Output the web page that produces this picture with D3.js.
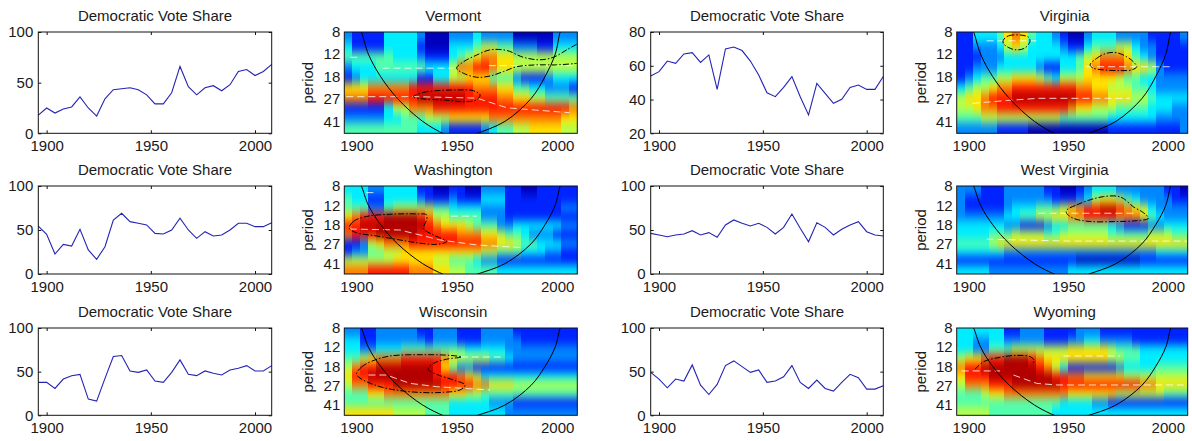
<!DOCTYPE html>
<html>
<head>
<meta charset="utf-8">
<script src="https://cdn.jsdelivr.net/npm/d3@7"></script>
<style>
  body { margin: 0; background: #fff; }
  svg text { font-family: "Liberation Sans", Arial, sans-serif; font-size: 15px; fill: #1a1a1a; }
</style>
</head>
<body>
<svg id="chart" width="1192" height="441"></svg>
<script>
// election years, shared by every panel
let years = [1896, 1900, 1904, 1908, 1912, 1916, 1920, 1924, 1928, 1932, 1936, 1940, 1944, 1948,
  1952, 1956, 1960, 1964, 1968, 1972, 1976, 1980, 1984, 1988, 1992, 1996, 2000, 2004, 2008];
let yearTicks = [1900, 1950, 2000];
let periodTicks = [8, 12, 18, 27, 41];

// democratic vote share, one value per election
let vermontVote = [18, 25, 20, 24, 26, 36, 25, 17, 34, 43, 44, 45, 43, 38, 29, 29, 40, 66, 46, 38, 45, 47, 42, 48, 61, 63, 57, 61, 68];
let virginiaVote = [53.9, 56.5, 62.8, 61.4, 67, 67.8, 62, 66.4, 46, 70, 71.1, 69, 62.8, 54.5, 44, 41.7, 47.2, 53.6, 41.7, 30.9, 49.6, 43.7, 37.8, 40.1, 47.2, 48.6, 46, 46, 53.6];
let washingtonVote = [54.5, 45, 22.7, 33.7, 31.8, 50.8, 27.3, 16.7, 31, 61.4, 69, 59.5, 57.6, 55.7, 46.2, 45.5, 50, 63.3, 50, 40.5, 48.1, 43.2, 44.3, 50, 57.6, 57.6, 53.8, 53.8, 58.3];
let westVirginiaVote = [46.2, 44.3, 42.4, 44.3, 45.5, 49.2, 44.3, 47, 41.7, 55.7, 61.4, 57.6, 54.5, 57.6, 53, 45.5, 53, 68.2, 51.9, 36.7, 58.3, 53, 44.3, 50.8, 55.7, 59.5, 48.1, 44.3, 43.2];
let wisconsinVote = [37.7, 37.7, 30.8, 41.5, 45.4, 46.9, 18.5, 16.2, 42.3, 67.3, 68.5, 50.8, 49.2, 51.9, 39.2, 37.7, 49.2, 63.5, 46.9, 45.4, 50.8, 48.1, 46.2, 51.9, 53.8, 56.9, 50.8, 50.8, 56.9];
let wyomingVote = [49.2, 41.5, 31.5, 41.5, 39.2, 57.7, 34.6, 23.8, 35.4, 56.9, 62.3, 55.8, 49.2, 51.9, 37.7, 39.2, 44.2, 56.9, 37.7, 30.8, 40.4, 30.8, 27.7, 37.7, 46.9, 43.1, 30, 30, 33.8];

// wavelet power, 0 (low) .. 9 (high); one string per period band (short -> long), one digit per election
let vermontPower = [
  "21111333320002223222200000222",
  "31111333310003334554422211333",
  "44444433321113456776655555555",
  "23334444443335778876655555555",
  "12333333311335566644421112333",
  "66677777888888887776644332221",
  "77788888899999988887766554444",
  "11111355777888888888888888887",
  "22222334445556666677777777766",
  "44444444433321111234455666655"
];
let virginiaPower = [
  "11333467643321002333222211112",
  "11222356533332113444553221111",
  "11122233333333345677764321111",
  "11222333332113346788876652111",
  "12344556665435556666544332222",
  "34556778888888877665554432222",
  "56678889999999988776665543333",
  "55677888888888766555444433322",
  "44455555555554444443333332222",
  "22222111100000000001111111112"
];
let washingtonPower = [
  "33322333311001100222110011111",
  "43311333321112111333111111111",
  "44422455555443333222111111122",
  "67888999987554444222111111111",
  "88999999998766654442233333322",
  "78889999988888777665443222111",
  "11256777888888888776654433322",
  "12244556666666666554443332211",
  "55555566666554443221111111111",
  "77788888777665544443333333333"
];
let westVirginiaPower = [
  "22211122222110012333222222110",
  "21111122222211123566543222211",
  "21111123334445678899876532222",
  "22222233445566778888777643222",
  "33333322111233444443211122333",
  "33334445555445555554444455544",
  "44445666666666666666666666666",
  "33333322222222222222222223333",
  "11111111111111100000000111111",
  "33332222222222333333333333333"
];
let wisconsinPower = [
  "22112222211222111222211111111",
  "33112222221222111222221111111",
  "33223334444444433333222222222",
  "44567778888876555544322222222",
  "57889999999864221111111111111",
  "68899999999888765333333333333",
  "57788899999988887766655555555",
  "44466777777776655444444444444",
  "44444444444443333322211111111",
  "66666655554443333333222222222"
];
let wyomingPower = [
  "33333311222111122211111111111",
  "33223322222111223322221111111",
  "33224445555555666665444333333",
  "56678899987666666665544333333",
  "78899999998753111111233334444",
  "68889999999988776666655555555",
  "57778889999998888888888776666",
  "44456677777777666666555555444",
  "44444444444443333221111111111",
  "55554444444433333333333333333"
];

// significance contours, [year, period]
let vermontContours = [
  { closed: false, pts: [[2009.7, 10.0], [2004.7, 11.1], [1998.1, 12.7], [1991.4, 13.3], [1983.1, 12.7], [1974.8, 11.2], [1966.5, 11.1], [1959.9, 12.2], [1953.3, 13.8], [1949.9, 15.5], [1953.3, 17.0], [1959.9, 18.3], [1966.5, 17.9], [1973.2, 16.5], [1979.8, 15.1], [1989.8, 14.6], [1999.7, 14.6], [2009.7, 14.2]] },
  { closed: true, pts: [[1928.4, 26.1], [1933.3, 24.2], [1940, 23.4], [1949.9, 23.1], [1958.2, 23.4], [1961.6, 25.3], [1959.9, 27.7], [1953.3, 28.6], [1943.3, 27.7], [1933.3, 27.2]] }
];
let virginiaContours = [
  { closed: true, pts: [[1917.4, 9.3], [1919.9, 8.6], [1925.8, 8.45], [1930, 8.8], [1930.8, 9.5], [1928.3, 10.7], [1924.1, 11.1], [1919.9, 10.6], [1917.4, 9.85]] },
  { closed: true, pts: [[1961, 14.6], [1964.3, 12.95], [1969.3, 11.8], [1974.4, 11.7], [1979.4, 12.6], [1982.7, 13.8], [1984.4, 15.1], [1981.9, 16], [1976, 16.2], [1967.7, 16], [1962.6, 15.5]] }
];
let washingtonContours = [
  { closed: true, pts: [[1896.5, 19.5], [1898.5, 16.9], [1905.1, 15.2], [1916.7, 14.5], [1930, 14.4], [1935, 14.7], [1934.7, 16.9], [1933.3, 19.5], [1938.3, 22.4], [1945, 25.8], [1940, 27.3], [1930, 26.4], [1920.1, 24.6], [1910.1, 22.9], [1900.1, 21.4]] }
];
let westVirginiaContours = [
  { closed: true, pts: [[1949.2, 13.3], [1954.3, 11.9], [1961, 10.7], [1967.7, 10], [1974.4, 9.9], [1977.7, 10.4], [1982.7, 12.4], [1987.7, 14], [1990.3, 15.8], [1984.4, 16.6], [1974.4, 16.9], [1961, 16.9], [1952.6, 15.8], [1949.2, 14.2]] }
];
let wisconsinContours = [
  { closed: true, pts: [[1900.1, 21], [1902.6, 18.3], [1907.6, 16.2], [1916.7, 14.5], [1933.3, 14.1], [1946.6, 14.3], [1952.4, 14.8], [1945, 15.5], [1938.3, 17], [1935.8, 19.2], [1940, 21.4], [1948.3, 24.1], [1954.1, 26.8], [1951.6, 29.8], [1943.3, 31.3], [1933.3, 31.5], [1921.7, 30.2], [1911.8, 27.8], [1904.3, 24.6], [1901, 22.5]] }
];
let wyomingContours = [
  { closed: false, pts: [[1903.2, 19.2], [1907.4, 16.4], [1915.8, 14.9], [1924.1, 14.3], [1930.8, 14.7], [1932.8, 15.9], [1931.7, 17.6]] }
];

// ridge lines (white dashes), [year, period]
let vermontRidges = [
  [[1897, 12.7], [1902, 12.7]],
  [[1913, 15.5], [1948, 15.5]],
  [[1966, 14.8], [2010, 14.8]],
  [[1895, 26.1], [1930, 26.1], [1960, 26.8], [1975, 32], [2006, 35]]
];
let virginiaRidges = [
  [[1909, 9.4], [1934, 9.4]],
  [[1959, 15.1], [2001, 15.1]],
  [[1902, 29.5], [1919, 28], [1935, 26.9], [1981, 26.9]]
];
let washingtonRidges = [
  [[1905, 9.2], [1910, 9.2]],
  [[1947, 15.1], [1960, 15.1]],
  [[1896.8, 19.8], [1921.7, 20.2], [1941.6, 24.9], [1960, 27.7], [1983, 29.3]]
];
let westVirginiaRidges = [
  [[1935, 14.2], [1983, 14.2]],
  [[1909, 24.5], [1950, 25.5], [2010, 25.5]]
];
let wisconsinRidges = [
  [[1952, 14.8], [1973, 14.8]],
  [[1906, 21.7], [1915, 21.7], [1926.7, 25.9], [1940, 27.8], [1966.5, 29.8]]
];
let wyomingRidges = [
  [[1896.5, 19.9], [1915.8, 19.9]],
  [[1922.5, 21.7], [1934.2, 25.9], [1944.2, 26.8], [2008, 26.8]],
  [[1947.6, 14.5], [1976, 14.5]]
];

// cone of influence, [year, period]
let coiLine = [[1901.5, 7.5], [1902.5, 8], [1906, 12], [1912, 18], [1920.5, 27], [1933, 41], [1944, 52],
  [1951.5, 58], [1959, 52], [1974, 41], [1987, 27], [1994, 18], [1999, 12], [2001.5, 8], [2002.5, 7.5]];

let states = [
  { name: "Vermont", vote: vermontVote, voteDomain: [0, 100], voteTicks: [0, 50, 100], power: vermontPower, contours: vermontContours, ridges: vermontRidges },
  { name: "Virginia", vote: virginiaVote, voteDomain: [20, 80], voteTicks: [20, 40, 60, 80], power: virginiaPower, contours: virginiaContours, ridges: virginiaRidges },
  { name: "Washington", vote: washingtonVote, voteDomain: [0, 100], voteTicks: [0, 50, 100], power: washingtonPower, contours: washingtonContours, ridges: washingtonRidges },
  { name: "West Virginia", vote: westVirginiaVote, voteDomain: [0, 100], voteTicks: [0, 50, 100], power: westVirginiaPower, contours: westVirginiaContours, ridges: westVirginiaRidges },
  { name: "Wisconsin", vote: wisconsinVote, voteDomain: [0, 100], voteTicks: [0, 50, 100], power: wisconsinPower, contours: wisconsinContours, ridges: wisconsinRidges },
  { name: "Wyoming", vote: wyomingVote, voteDomain: [0, 100], voteTicks: [0, 50, 100], power: wyomingPower, contours: wyomingContours, ridges: wyomingRidges }
];

// layout (pixels)
let lineCols = [[38.3, 271.7], [650.7, 883.3]];
let heatCols = [[344.3, 577.3], [956.7, 1187.7]];
let rowBoxes = [[32, 133.3], [186, 274], [328, 415.3]];
let lineColor = "#2424b4";

// jet colormap
let jet = d3.scaleLinear()
  .domain([0, 0.125, 0.375, 0.625, 0.875, 1])
  .range(["#00007f", "#0000ff", "#00ffff", "#ffff00", "#ff0000", "#7f0000"]);
let powerScale = d3.scaleLinear().domain([0, 9]).range([0.06, 0.95]);

let svg = d3.select("#chart");
svg.append("rect").attr("width", 1192).attr("height", 441).attr("fill", "#fff");
let defs = svg.append("defs");
let blur = defs.append("filter").attr("id", "vblur")
  .attr("x", -0.05).attr("y", -0.3).attr("width", 1.1).attr("height", 1.6)
  .attr("color-interpolation-filters", "sRGB");
blur.append("feGaussianBlur").attr("stdDeviation", "0 5");

function cleanAxis(g) {
  g.select(".domain").remove();
  g.attr("font-size", null).attr("font-family", null).attr("color", "#111");
}

function drawLinePanel(state, box) {
  let g = svg.append("g");
  let x = d3.scaleLinear().domain([1896, 2008]).range([box.x0, box.x1]);
  let y = d3.scaleLinear().domain(state.voteDomain).range([box.y1, box.y0]);

  g.append("text").attr("x", (box.x0 + box.x1) / 2).attr("y", box.y0 - 11)
    .attr("text-anchor", "middle").text("Democratic Vote Share");

  g.append("path").datum(state.vote)
    .attr("d", d3.line().x((d, i) => x(years[i])).y(d => y(d)))
    .attr("fill", "none").attr("stroke", lineColor).attr("stroke-width", 1.1);

  g.append("g").attr("transform", `translate(0,${box.y1})`)
    .call(d3.axisBottom(x).tickValues(yearTicks).tickFormat(d3.format("d")).tickSize(-3).tickSizeOuter(0).tickPadding(7))
    .call(cleanAxis);
  g.append("g").attr("transform", `translate(0,${box.y0})`)
    .call(d3.axisTop(x).tickValues(yearTicks).tickFormat(() => "").tickSize(-3).tickSizeOuter(0))
    .call(cleanAxis);
  g.append("g").attr("transform", `translate(${box.x0},0)`)
    .call(d3.axisLeft(y).tickValues(state.voteTicks).tickSize(-3).tickSizeOuter(0).tickPadding(5))
    .call(cleanAxis);
  g.append("g").attr("transform", `translate(${box.x1},0)`)
    .call(d3.axisRight(y).tickValues(state.voteTicks).tickFormat(() => "").tickSize(-3).tickSizeOuter(0))
    .call(cleanAxis);

  g.append("rect").attr("x", box.x0).attr("y", box.y0)
    .attr("width", box.x1 - box.x0).attr("height", box.y1 - box.y0)
    .attr("fill", "none").attr("stroke", "#111").attr("stroke-width", 1);
}

function drawHeatPanel(state, box, id) {
  let g = svg.append("g");
  let x = d3.scaleLinear().domain([1894, 2010]).range([box.x0, box.x1]);
  let y = d3.scaleLog().domain([8, 51]).range([box.y0, box.y1]);
  let band = d3.scaleBand().domain(d3.range(state.power.length)).range([box.y0, box.y1]);
  let last = state.power.length - 1;

  let cells = [];
  state.power.forEach((row, r) => row.split("").forEach((ch, c) => cells.push({ r: r, c: c, v: +ch })));

  defs.append("clipPath").attr("id", "clip" + id).append("rect")
    .attr("x", box.x0).attr("y", box.y0)
    .attr("width", box.x1 - box.x0).attr("height", box.y1 - box.y0);

  let clipped = g.append("g").attr("clip-path", `url(#clip${id})`);
  let img = clipped.append("g").attr("filter", "url(#vblur)");
  img.selectAll("rect").data(cells).join("rect")
    .attr("x", d => x(years[d.c] - 2))
    .attr("width", d => x(years[d.c] + 2) - x(years[d.c] - 2) + 0.6)
    .attr("y", d => band(d.r) - (d.r === 0 ? 20 : 0))
    .attr("height", d => band.bandwidth() + 0.6 + (d.r === 0 || d.r === last ? 20 : 0))
    .attr("shape-rendering", "crispEdges")
    .attr("fill", d => jet(powerScale(d.v)));

  let pline = d3.line().x(d => x(d[0])).y(d => y(d[1]));

  clipped.selectAll("path.ridge").data(state.ridges).join("path")
    .attr("class", "ridge")
    .attr("d", pline)
    .attr("fill", "none").attr("stroke", "#fff").attr("stroke-width", 1)
    .attr("stroke-dasharray", "7,4").attr("opacity", 0.8);

  clipped.selectAll("path.contour").data(state.contours).join("path")
    .attr("class", "contour")
    .attr("d", d => pline.curve(d.closed ? d3.curveCatmullRomClosed : d3.curveCatmullRom)(d.pts))
    .attr("fill", "none").attr("stroke", "#000").attr("stroke-width", 1)
    .attr("stroke-dasharray", "6,2,1.5,2");

  clipped.append("path").datum(coiLine)
    .attr("d", pline.curve(d3.curveCatmullRom))
    .attr("fill", "none").attr("stroke", "#000").attr("stroke-width", 1);

  g.append("rect").attr("x", box.x0).attr("y", box.y0)
    .attr("width", box.x1 - box.x0).attr("height", box.y1 - box.y0)
    .attr("fill", "none").attr("stroke", "#111").attr("stroke-width", 1);

  g.append("text").attr("x", (box.x0 + box.x1) / 2 - 7.5).attr("y", box.y0 - 11)
    .attr("text-anchor", "middle").text(state.name);

  g.append("g").attr("transform", `translate(0,${box.y1})`)
    .call(d3.axisBottom(x).tickValues(yearTicks).tickFormat(d3.format("d")).tickSize(0).tickPadding(7))
    .call(cleanAxis);
  g.append("g").attr("transform", `translate(${box.x0},0)`)
    .call(d3.axisLeft(y).tickValues(periodTicks).tickFormat(d3.format("d")).tickSize(0).tickPadding(4))
    .call(cleanAxis);

  g.append("text")
    .attr("transform", `translate(${box.x0 - 31},${(box.y0 + box.y1) / 2}) rotate(-90)`)
    .attr("text-anchor", "middle").text("period");
}

states.forEach((state, i) => {
  let row = Math.floor(i / 2), col = i % 2;
  let [y0, y1] = rowBoxes[row];
  drawLinePanel(state, { x0: lineCols[col][0], x1: lineCols[col][1], y0: y0, y1: y1 });
  drawHeatPanel(state, { x0: heatCols[col][0], x1: heatCols[col][1], y0: y0, y1: y1 }, i);
});
</script>
</body>
</html>
